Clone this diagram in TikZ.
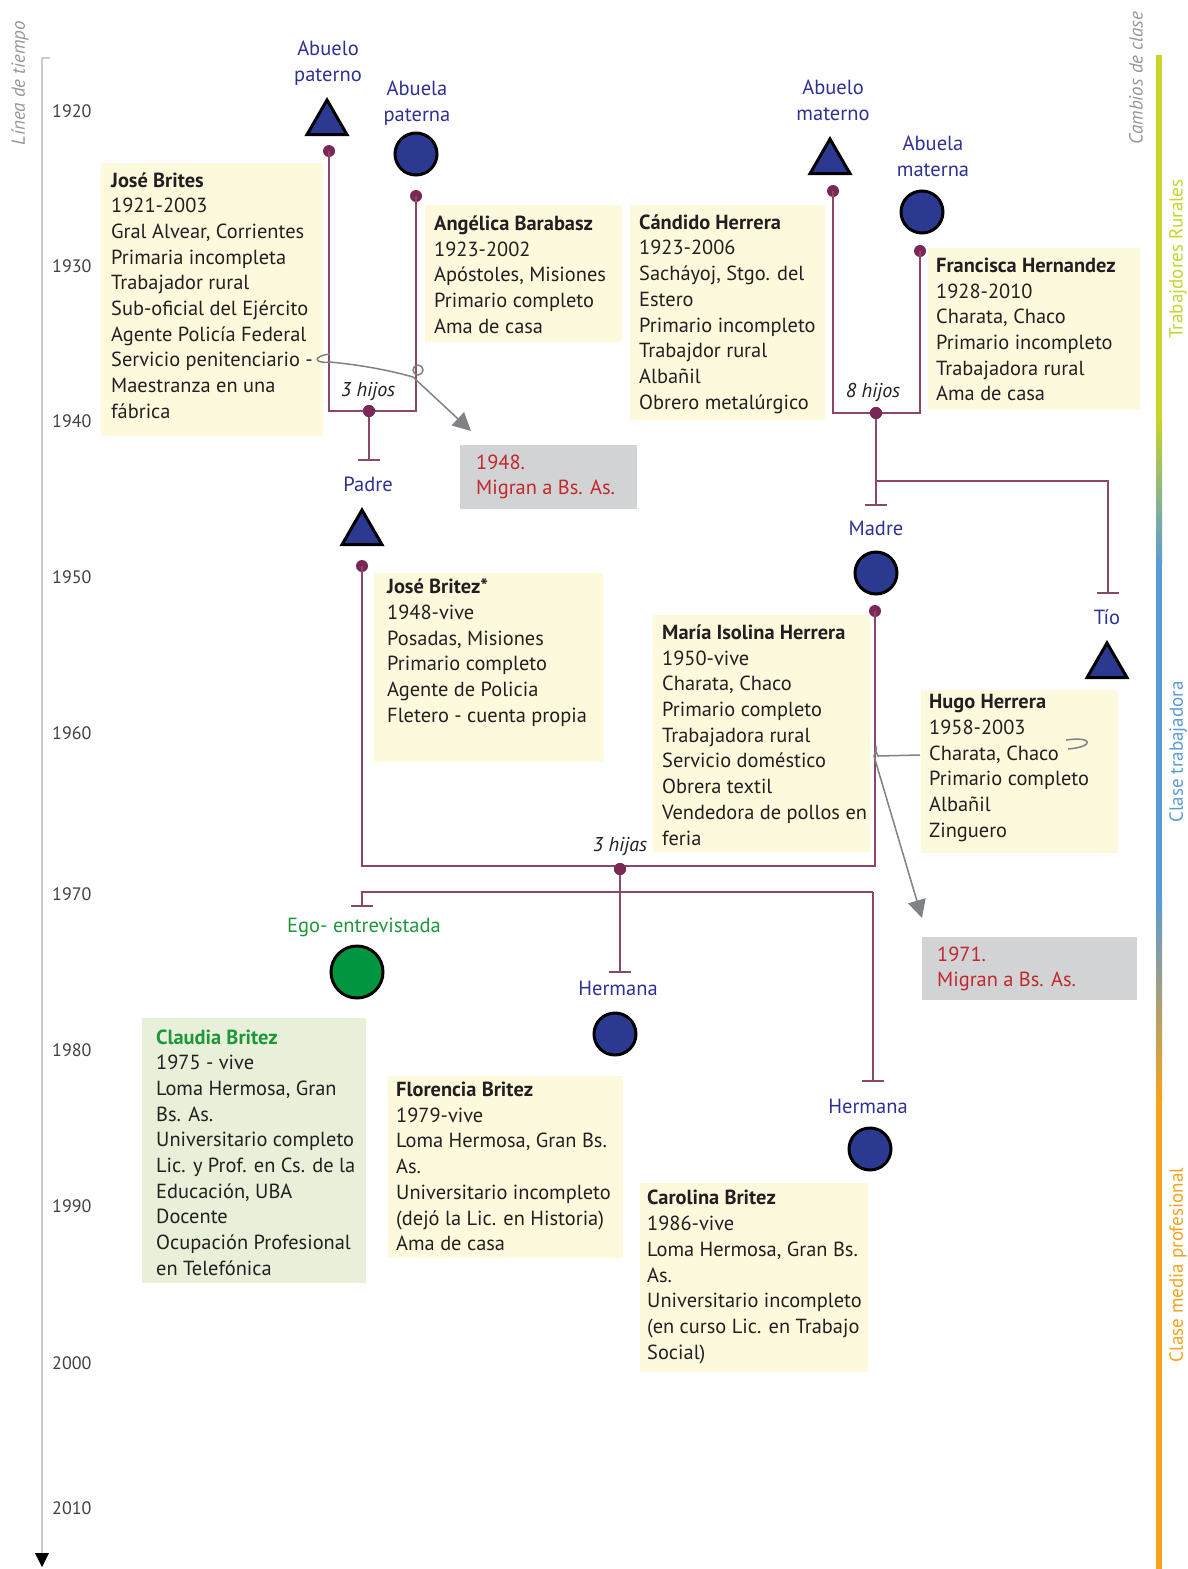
\documentclass[tikz,border=0pt]{standalone}
\usepackage{fontspec}
\setmainfont{PT Sans}
\usetikzlibrary{arrows.meta,shapes.geometric}
\definecolor{famcol}{RGB}{140,70,105}
\definecolor{dotcol}{RGB}{122,40,85}
\definecolor{nodeblue}{RGB}{43,57,144}
\definecolor{labblue}{RGB}{46,49,146}
\definecolor{egogreen}{RGB}{0,150,64}
\definecolor{egotext}{RGB}{30,150,60}
\definecolor{boxyellow}{RGB}{253,249,220}
\definecolor{boxgreen}{RGB}{232,240,218}
\definecolor{graybox}{RGB}{209,211,212}
\definecolor{migred}{RGB}{193,39,45}
\definecolor{barg}{RGB}{200,212,40}
\definecolor{barb}{RGB}{91,155,213}
\definecolor{baro}{RGB}{247,162,27}
\definecolor{arrgray}{RGB}{128,130,133}
\definecolor{textcol}{RGB}{35,31,32}
\definecolor{yearcol}{RGB}{65,64,66}
\definecolor{tlgray}{RGB}{150,150,150}
\begin{document}
\begin{tikzpicture}[x=1pt,y=-1pt,
  famline/.style={draw=famcol, line width=2pt},
  famdot/.style={circle, fill=dotcol, inner sep=0, minimum size=12pt},
  tri/.style={regular polygon, regular polygon sides=3, minimum size=46pt, fill=nodeblue, draw=black, line width=3pt, inner sep=0},
  circ/.style={circle, minimum size=42pt, fill=nodeblue, draw=black, line width=3pt, inner sep=0},
  rolelab/.style={text=labblue, font=\fontsize{20.5}{26}\selectfont, align=center, inner sep=0},
  infotext/.style={anchor=west, align=left, inner sep=0, font=\fontsize{20.4}{25.7}\selectfont, text=textcol},
  migtext/.style={anchor=west, align=left, inner sep=0, font=\fontsize{20.4}{25.7}\selectfont, text=migred},
  yearlab/.style={anchor=west, inner sep=0, font=\fontsize{18}{20}\selectfont, text=yearcol},
  kids/.style={inner sep=0, font=\fontsize{20}{20}\selectfont\itshape, text=textcol},
  endbar/.style={-{Bar[width=22pt]}},
  migarrow/.style={draw=arrgray, line width=1.5pt},
  migtip/.style={-{Triangle[length=18pt,width=18pt]}},
  sidelab/.style={inner sep=0, rotate=90, font=\fontsize{19}{20}\selectfont},
]
\useasboundingbox (0,0) rectangle (1187,1569);
\fill[white] (0,0) rectangle (1187,1569);

% ---------- timeline ----------
\coordinate (tltop) at (42,58);
\coordinate (tltick) at (50,58);
\coordinate (tlbot) at (42,1556);
\draw[draw=black!20, line width=1.5pt] (tltick) -- (tltop) -- (tlbot);
\fill[black] (35,1553) -- (49,1553) -- (42,1567) -- cycle;
\node[sidelab, text=tlgray, font=\fontsize{19}{20}\selectfont\itshape] (tllab) at (20,83) {Línea de tiempo};
\foreach \yr/\yy in {1920/111,1930/266,1940/421,1950/577,1960/733,1970/894,1980/1050,1990/1206,2000/1363,2010/1508}
  \node[yearlab] (y\yr) at (52,\yy) {\yr};

% ---------- class bar ----------
\fill[barg] (1156,55) rectangle (1162,420);
\shade[top color=barg, bottom color=barb] (1156,419) rectangle (1162,562);
\fill[barb] (1156,561) rectangle (1162,900);
\shade[top color=barb, bottom color=baro] (1156,899) rectangle (1162,1100);
\fill[baro] (1156,1099) rectangle (1162,1569);
\node[sidelab, text=tlgray, font=\fontsize{19}{20}\selectfont\itshape] (cclab) at (1136,78) {Cambios de clase};
\node[sidelab, text=barg] (trlab) at (1178,259) {Trabajdores Rurales};
\node[sidelab, text=barb] (ctlab) at (1178,752) {Clase trabajadora};
\node[sidelab, text=baro] (cmlab) at (1178,1265) {Clase media profesional};

% ---------- boxes ----------
\fill[boxyellow] (101,163) rectangle (323,436);
\fill[boxyellow] (425,205) rectangle (622,342);
\fill[boxyellow] (630,205) rectangle (825,420);
\fill[boxyellow] (928,248) rectangle (1140,410);
\fill[graybox] (460,445) rectangle (637,509);
\fill[boxyellow] (374,573) rectangle (603,762);
\fill[boxyellow] (653,615) rectangle (870,852);
\fill[boxyellow] (921,690) rectangle (1118,853);
\fill[graybox] (922,937) rectangle (1137,1000);
\fill[boxgreen] (142,1018) rectangle (366,1283);
\fill[boxyellow] (388,1076) rectangle (623,1258);
\fill[boxyellow] (640,1183) rectangle (868,1372);

% ---------- people ----------
\node[rolelab] (lAP) at (328,63) {Abuelo\\paterno};
\node[tri] (AP) at (327,123) {};
\node[rolelab] (lAbP) at (417,103) {Abuela\\paterna};
\node[circ] (AbP) at (416,154) {};
\node[rolelab] (lAM) at (833,100) {Abuelo\\materno};
\node[tri] (AM) at (830,162) {};
\node[rolelab] (lAbM) at (933,156) {Abuela\\materna};
\node[circ] (AbM) at (922,212) {};
\node[rolelab] (lPa) at (368,484) {Padre};
\node[tri] (Pa) at (362,533) {};
\node[rolelab] (lMa) at (876,528) {Madre};
\node[circ] (Ma) at (876,573) {};
\node[rolelab] (lTio) at (1107,617) {Tío};
\node[tri] (Tio) at (1107,666) {};
\node[rolelab, text=egotext] (lEgo) at (364,927) {Ego- entrevistada};
\node[circ, fill=egogreen, minimum size=52pt] (Ego) at (357,972) {};
\node[rolelab] (lH1) at (618,988) {Hermana};
\node[circ] (H1) at (615,1034) {};
\node[rolelab] (lH2) at (868,1106) {Hermana};
\node[circ] (H2) at (870,1149) {};

% ---------- family lines ----------
\coordinate (cAPb) at (329,411);
\coordinate (cAbPb) at (416,411);
\coordinate (cHijosP) at (369,461);
\coordinate (cAMb) at (833,413);
\coordinate (cAbMb) at (920,413);
\coordinate (cHijosM) at (876,506);
\coordinate (cBr) at (876,481);
\coordinate (cBrR) at (1108,481);
\coordinate (cTio) at (1108,594);
\coordinate (cPab) at (362,866);
\coordinate (cMab) at (875,866);
\coordinate (cH1) at (620,973);
\coordinate (cSL) at (362,892);
\coordinate (cSR) at (873,892);
\coordinate (cEgo) at (362,907);
\coordinate (cH2) at (873,1082);

\node[famdot] (dAP) at (329,151) {};
\node[famdot] (dAbP) at (416,196) {};
\node[famdot] (dP) at (369,411) {};
\node[famdot] (dAM) at (833,191) {};
\node[famdot] (dAbM) at (920,251) {};
\node[famdot] (dM) at (876,413) {};
\node[famdot] (dPa) at (362,566) {};
\node[famdot] (dMa) at (875,611) {};
\node[famdot] (dS) at (620,869) {};

\draw[famline] (dAP.center) -- (cAPb) -- (cAbPb) -- (dAbP.center);
\draw[famline, endbar] (dP.center) -- (cHijosP);
\draw[famline] (dAM.center) -- (cAMb) -- (cAbMb) -- (dAbM.center);
\draw[famline, endbar] (dM.center) -- (cHijosM);
\draw[famline, endbar] (cBr) -- (cBrR) -- (cTio);
\draw[famline] (dPa.center) -- (cPab) -- (cMab) -- (dMa.center);
\draw[famline, endbar] (dS.center) -- (cH1);
\draw[famline, endbar] (cSR) -- (cSL) -- (cEgo);
\draw[famline, endbar] (cSR) -- (cH2);
\node[famdot] at (dP) {};
\node[famdot] at (dM) {};
\node[famdot] at (dS) {};

\node[kids] (k1) at (368,391) {3 hijos};
\node[kids] (k2) at (873,392) {8 hijos};
\node[kids] (k3) at (620,846) {3 hijas};

% ---------- texts ----------
\node[infotext] (tJB) at (111,295.5) {\textbf{José Brites}\\1921-2003\\Gral Alvear, Corrientes\\Primaria incompleta\\Trabajador rural\\Sub-oficial del Ejército\\Agente Policía Federal\\Servicio penitenciario -\\Maestranza en una\\fábrica};
\node[infotext] (tAB) at (434,274.5) {\textbf{Angélica Barabasz}\\1923-2002\\Apóstoles, Misiones\\Primario completo\\Ama de casa};
\node[infotext] (tCH) at (639,314) {\textbf{Cándido Herrera}\\1923-2006\\Sacháyoj, Stgo. del\\Estero\\Primario incompleto\\Trabajdor rural\\Albañil\\Obrero metalúrgico};
\node[infotext] (tFH) at (936,329.5) {\textbf{Francisca Hernandez}\\1928-2010\\Charata, Chaco\\Primario incompleto\\Trabajadora rural\\Ama de casa};
\node[migtext] (t48) at (476,477) {1948.\\Migran a Bs. As.};
\node[infotext] (tJZ) at (387,652.5) {\textbf{José Britez*}\\1948-vive\\Posadas, Misiones\\Primario completo\\Agente de Policia\\Fletero - cuenta propia};
\node[infotext] (tMI) at (662,735) {\textbf{María Isolina Herrera}\\1950-vive\\Charata, Chaco\\Primario completo\\Trabajadora rural\\Servicio doméstico\\Obrera textil\\Vendedora de pollos en\\feria};
\node[infotext] (tHH) at (929,768) {\textbf{Hugo Herrera}\\1958-2003\\Charata, Chaco\\Primario completo\\Albañil\\Zinguero};
\node[migtext] (t71) at (937,969) {1971.\\Migran a Bs. As.};
\node[infotext] (tCB) at (156,1152.5) {\textcolor{egotext}{\textbf{Claudia Britez}}\\1975 - vive\\Loma Hermosa, Gran\\Bs. As.\\Universitario completo\\Lic. y Prof. en Cs. de la\\Educación, UBA\\Docente\\Ocupación Profesional\\en Telefónica};
\node[infotext] (tFB) at (396,1166.5) {\textbf{Florencia Britez}\\1979-vive\\Loma Hermosa, Gran Bs.\\As.\\Universitario incompleto\\(dejó la Lic. en Historia)\\Ama de casa};
\node[infotext] (tCa) at (647,1277) {\textbf{Carolina Britez}\\1986-vive\\Loma Hermosa, Gran Bs.\\As.\\Universitario incompleto\\(en curso Lic. en Trabajo\\Social)};

% ---------- migration arrows ----------
\coordinate (m1a) at (330,354);
\coordinate (m1b) at (330,362);
\coordinate (m1c) at (413,377);
\coordinate (m1d) at (471,431);
\draw[migarrow] (m1a) .. controls (312,356) and (314,364) .. (m1b) .. controls (370,366) and (395,372) .. (m1c);
\draw[migarrow, migtip] (m1c) -- (m1d);
\draw[migarrow] (418,370) circle[radius=5pt];

\coordinate (m2a) at (920,755);
\coordinate (m2b) at (878,756);
\coordinate (m2c) at (874,756);
\coordinate (m2d) at (922,918);
\draw[migarrow] (m2a) -- (m2b) .. controls (872,745) and (880,742) .. (m2c);
\draw[migarrow, migtip] (m2c) -- (m2d);
\coordinate (m2e) at (1066,740);
\coordinate (m2f) at (1068,749);
\draw[migarrow] (m2e) .. controls (1094,736) and (1094,747) .. (m2f);
\end{tikzpicture}
\end{document}
